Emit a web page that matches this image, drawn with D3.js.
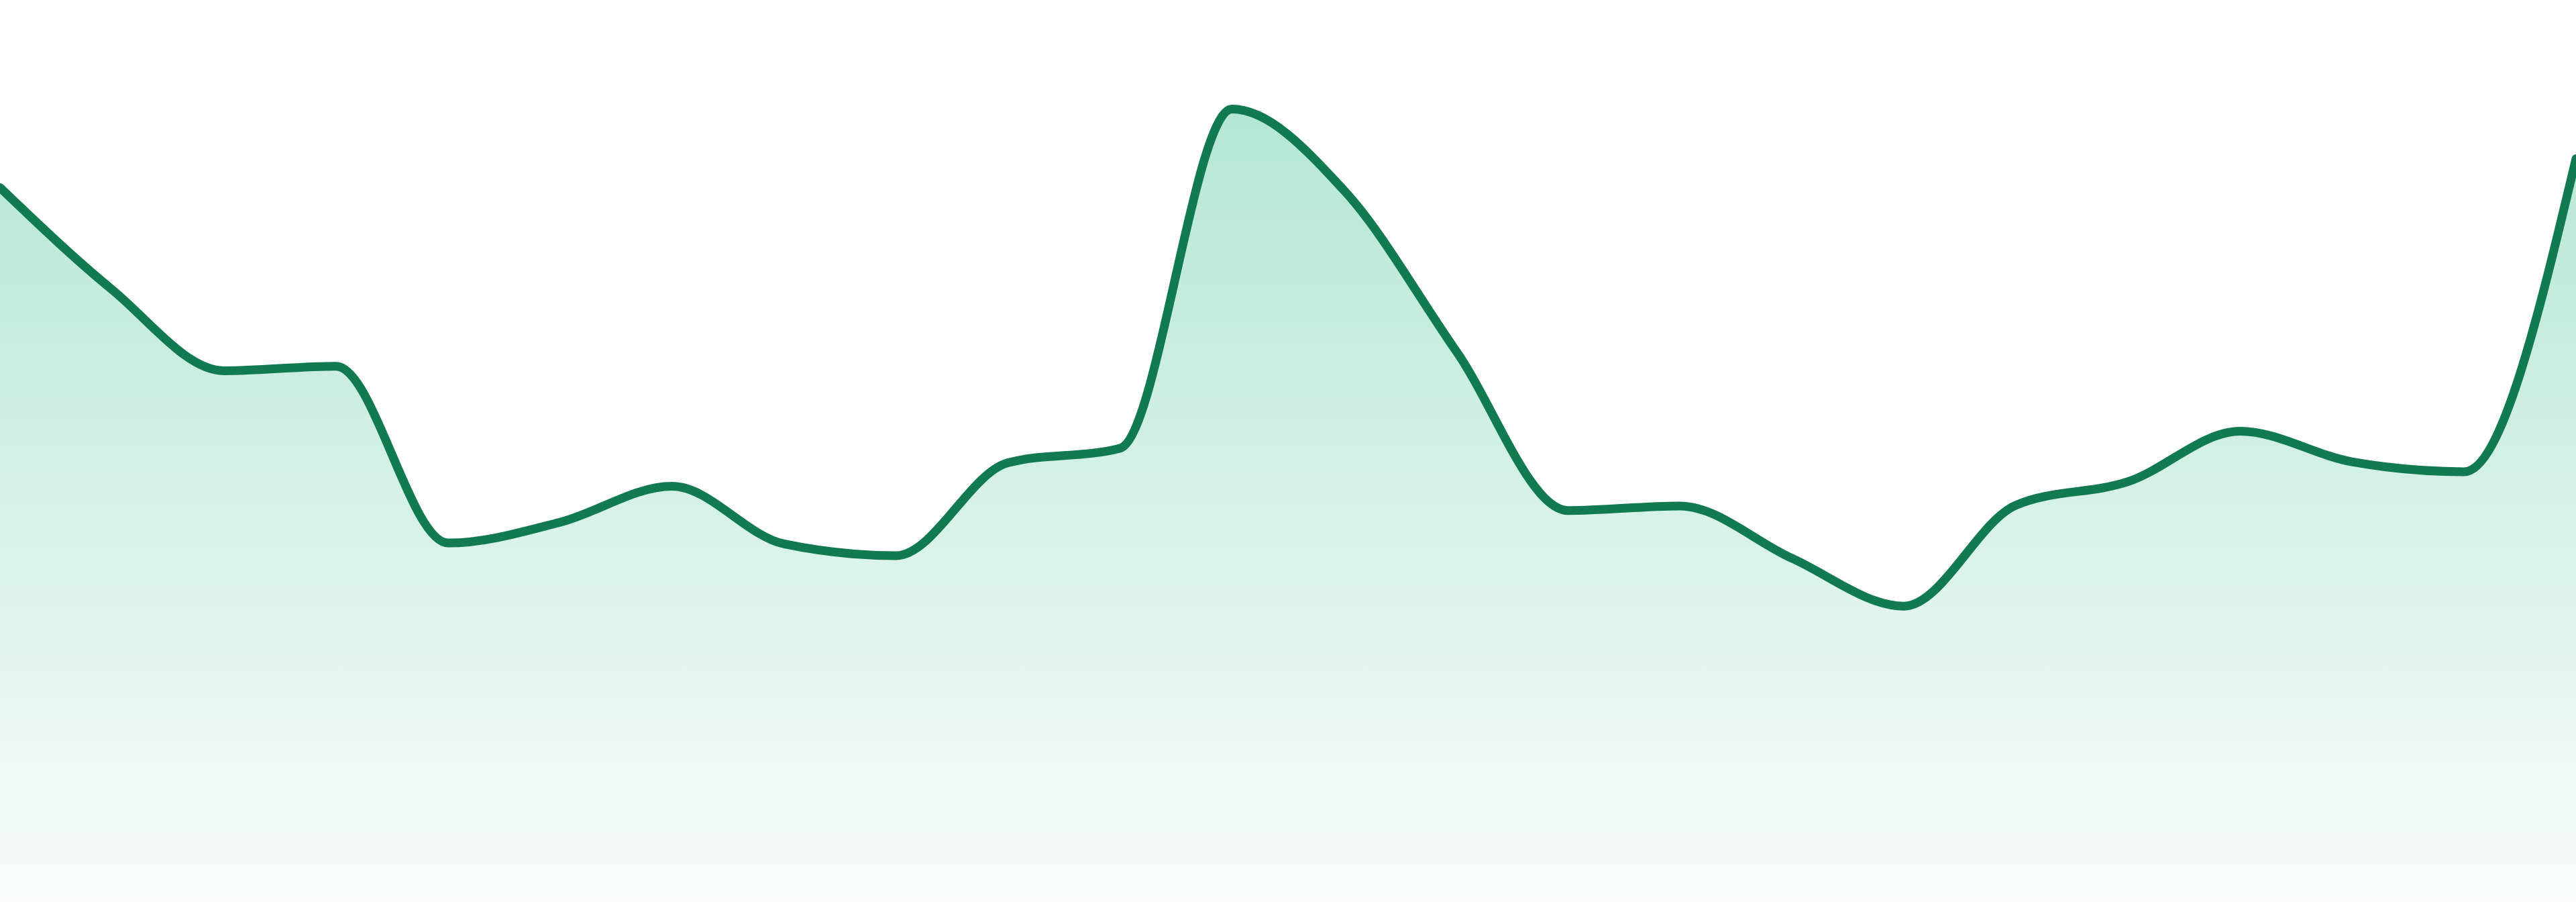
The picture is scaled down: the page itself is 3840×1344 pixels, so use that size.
<!DOCTYPE html>
<html>
<head>
<meta charset="utf-8">
<script src="https://cdn.jsdelivr.net/npm/d3@7"></script>
<style>
  html, body { margin: 0; padding: 0; background: #fff; }
  svg { display: block; }
</style>
</head>
<body>
<svg id="chart"></svg>
<script>
// SETUP: full-bleed sparkline area chart
const width = 3840,
    height = 1344;

// DATA: one value per step
const steps = d3.range(1, 25); // 24 points
const values = [79.2, 67.9, 58.9, 59.4, 39.8, 42.1, 46.1, 39.7, 38.4, 48.7, 50.3, 87.9,
                78.9, 61.1, 43.4, 43.9, 38.1, 32.8, 44.0, 46.6, 52.2, 48.8, 47.7, 82.4];
const yDomain = [0, 100];

const data = steps.map((s, i) => ({ step: s, value: values[i] }));

const svg = d3.select("#chart")
    .attr("width", width)
    .attr("height", height);

// SCALES
const x = d3.scaleLinear()
    .domain(d3.extent(steps))
    .range([0, width]);

const y = d3.scaleLinear()
    .domain(yDomain)
    .range([height, 0]);

// GRADIENT for the area
const grad = svg.append("defs").append("linearGradient")
    .attr("id", "areaFill")
    .attr("gradientUnits", "userSpaceOnUse")
    .attr("x1", 0).attr("x2", 0)
    .attr("y1", y(d3.max(values)))
    .attr("y2", height);

grad.append("stop").attr("offset", "0%")
    .attr("stop-color", "#20b47b").attr("stop-opacity", 0.33);
grad.append("stop").attr("offset", "100%")
    .attr("stop-color", "#20b47b").attr("stop-opacity", 0.035);

// AREA + LINE
const area = d3.area()
    .x(d => x(d.step))
    .y0(height)
    .y1(d => y(d.value))
    .curve(d3.curveMonotoneX);

const line = d3.line()
    .x(d => x(d.step))
    .y(d => y(d.value))
    .curve(d3.curveMonotoneX);

svg.append("path")
    .datum(data)
    .attr("d", area)
    .attr("fill", "url(#areaFill)");

svg.append("path")
    .datum(data)
    .attr("d", line)
    .attr("fill", "none")
    .attr("stroke", "#117a50")
    .attr("stroke-width", 13)
    .attr("stroke-linejoin", "round")
    .attr("stroke-linecap", "round");
</script>
</body>
</html>
